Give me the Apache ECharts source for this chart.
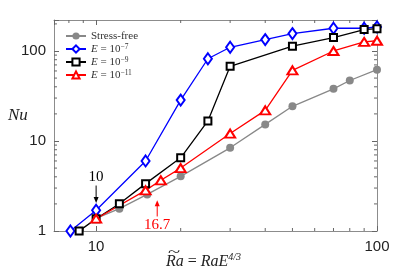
<!DOCTYPE html>
<html><head><meta charset="utf-8">
<script src="https://cdn.jsdelivr.net/npm/echarts@6/dist/echarts.min.js"></script>
<style>html,body{margin:0;padding:0;background:#fff}#c{width:415px;height:277px}</style>
</head><body><div id="c"></div>
<script>
// ---- data ----
const sfX = [8.7, 10, 12.1, 15.2, 20, 30, 40, 50, 70, 80, 100];
const sfY = [1.0, 1.38, 1.77, 2.55, 4.05, 8.4, 15.3, 24.3, 38, 47, 62];
const e7X = [8.1, 10, 15, 20, 25, 30, 40, 50, 70, 90, 100];
const e7Y = [1.0, 1.7, 6.0, 28.5, 82, 110, 134, 156, 179, 179, 185];
const e9X = [8.7, 10, 12.1, 15, 20, 25, 30, 50, 70, 90, 100];
const e9Y = [1.0, 1.37, 2.01, 3.36, 6.5, 16.7, 67.5, 113, 141, 173, 177];
const e11X = [10, 15, 17, 20, 30, 40, 50, 70, 90, 100];
const e11Y = [1.37, 2.83, 3.66, 5.0, 12.1, 21.9, 61, 100, 126, 130];
const seriesNames = ['Stress-free', 'E7', 'E9', 'E11'];
const xMajor = [10, 100];
const yMajor = [1, 10, 100];
const xMinor = [8, 9, 20, 30, 40, 50, 60, 70, 80, 90];
const yMinor = [2, 3, 4, 5, 6, 7, 8, 9, 20, 30, 40, 50, 60, 70, 80, 90, 200];
const annotations = [
  {text: '10', x: 10, yTail: 3.2, yHead: 2.05, color: '#000'},
  {text: '16.7', x: 16.5, yHead: 2.2, yTail: 1.45, color: '#f00'}
];
// ---- chart ----
const zip = (a, b) => a.map((v, i) => [v, b[i]]);
const XMIN = 7.08, XMAX = 100, YMIN = 1, YMAX = 221;
const boxColor = '#8c8c8c';
const tickColor = '#666';
const chart = echarts.init(document.getElementById('c'), null, {renderer: 'canvas'});
const serif = '"Liberation Serif", "DejaVu Serif", serif';
const sans = '"Liberation Sans", Arial, sans-serif';
const txt = '#333';
const rich = {
  i: {fontFamily: serif, fontStyle: 'italic', fontSize: 11, lineHeight: 12, color: txt},
  n: {fontFamily: serif, fontSize: 11, lineHeight: 12, color: txt},
  s: {fontFamily: serif, fontSize: 7.5, lineHeight: 5, verticalAlign: 'top', color: txt}
};
const legendLabels = {
  'Stress-free': '{n|Stress-free}',
  'E7': '{i|E} {n|= 10}{s|−7}',
  'E9': '{i|E} {n|= 10}{s|−9}',
  'E11': '{i|E} {n|= 10}{s|−11}'
};
function tickFmt(majors) {
  return v => majors.some(m => Math.abs(m - v) / m < 1e-6) ? String(Math.round(v)) : '';
}
function lineSeries(name, x, y, color, symbol, size) {
  return {
    name, type: 'line', data: zip(x, y), symbol, symbolSize: size,
    lineStyle: {color, width: 1.3}, itemStyle: {color, borderWidth: 1.3},
    showAllSymbol: true, z: 3
  };
}
const option = {
  animation: false,
  backgroundColor: '#fff',
  grid: {left: 54, right: 38, top: 20, bottom: 46},
  legend: {
    orient: 'vertical', left: 60, top: 25, itemWidth: 20, itemHeight: 9, itemGap: 1,
    data: seriesNames,
    formatter: n => legendLabels[n],
    textStyle: {rich, fontSize: 11, lineHeight: 12, fontFamily: serif}
  },
  xAxis: [
    {type: 'log', logBase: 10, min: XMIN, max: XMAX, position: 'bottom',
     axisLine: {lineStyle: {color: boxColor, width: 1}},
     axisTick: {inside: true, length: 5, lineStyle: {color: tickColor}},
     axisLabel: {formatter: tickFmt(xMajor), fontFamily: sans, fontSize: 15, color: '#222', margin: 8,
                 showMinLabel: false},
     splitLine: {show: false}},
    {type: 'log', logBase: 10, min: XMIN, max: XMAX, position: 'top',
     axisLine: {lineStyle: {color: boxColor, width: 1}},
     axisTick: {inside: true, length: 5, lineStyle: {color: tickColor}},
     axisLabel: {show: false}, splitLine: {show: false}}
  ],
  yAxis: [
    {type: 'log', logBase: 10, min: YMIN, max: YMAX, position: 'left',
     axisLine: {show: true, lineStyle: {color: boxColor, width: 1}},
     axisTick: {show: true, inside: true, length: 5, lineStyle: {color: tickColor}},
     axisLabel: {formatter: tickFmt(yMajor), fontFamily: sans, fontSize: 15, color: '#222', margin: 8},
     splitLine: {show: false}},
    {type: 'log', logBase: 10, min: YMIN, max: YMAX, position: 'right',
     axisLine: {show: true, lineStyle: {color: boxColor, width: 1}},
     axisTick: {show: true, inside: true, length: 5, lineStyle: {color: tickColor}},
     axisLabel: {show: false}, splitLine: {show: false}}
  ],
  series: [
    lineSeries('Stress-free', sfX, sfY, '#888888', 'circle', 8),
    lineSeries('E7', e7X, e7Y, '#0000ff', 'emptyDiamond', [8, 11]),
    lineSeries('E9', e9X, e9Y, '#000000', 'emptyRect', 7),
    lineSeries('E11', e11X, e11Y, '#ff0000', 'emptyTriangle', [10, 8]),
    {
      type: 'custom', silent: true, z: 1, legendHoverLink: false,
      data: xMinor.map(v => [v, YMIN]),
      renderItem: (params, api) => {
        const p = api.coord([api.value(0), api.value(1)]);
        const cs = params.coordSys;
        const st = {stroke: tickColor, lineWidth: 1};
        return {type: 'group', children: [
          {type: 'line', shape: {x1: p[0], y1: cs.y + cs.height, x2: p[0], y2: cs.y + cs.height - 3}, style: st},
          {type: 'line', shape: {x1: p[0], y1: cs.y, x2: p[0], y2: cs.y + 3}, style: st}
        ]};
      }
    },
    {
      type: 'custom', silent: true, z: 1,
      data: yMinor.map(v => [10, v]),
      renderItem: (params, api) => {
        const p = api.coord([api.value(0), api.value(1)]);
        const cs = params.coordSys;
        const st = {stroke: tickColor, lineWidth: 1};
        return {type: 'group', children: [
          {type: 'line', shape: {x1: cs.x, y1: p[1], x2: cs.x + 3, y2: p[1]}, style: st},
          {type: 'line', shape: {x1: cs.x + cs.width, y1: p[1], x2: cs.x + cs.width - 3, y2: p[1]}, style: st}
        ]};
      }
    }
  ]
};
chart.setOption(option);

// annotations and axis titles
const g = [];
annotations.forEach(a => {
  const t = chart.convertToPixel({xAxisIndex: 0, yAxisIndex: 0}, [a.x, a.yTail]);
  const h = chart.convertToPixel({xAxisIndex: 0, yAxisIndex: 0}, [a.x, a.yHead]);
  const dir = h[1] > t[1] ? 1 : -1;
  g.push({type: 'line', shape: {x1: t[0], y1: t[1], x2: h[0], y2: h[1] - dir * 3}, style: {stroke: a.color, lineWidth: 1}, z: 10});
  g.push({type: 'polygon', shape: {points: [[h[0], h[1]], [h[0] - 2.5, h[1] - dir * 6], [h[0] + 2.5, h[1] - dir * 6]]}, style: {fill: a.color}, z: 10});
  g.push({type: 'text', x: t[0], y: dir > 0 ? t[1] - 1 : t[1] + 1,
    style: {text: a.text, fill: a.color, font: '15px ' + serif, align: 'center', verticalAlign: dir > 0 ? 'bottom' : 'top'}, z: 10});
});
g.push({type: 'text', left: 8, top: 107, style: {text: 'Nu', fill: '#222', font: 'italic 17px ' + serif}});
g.push({type: 'text', left: 166, top: 252, style: {
  text: '{i|Ra} = {i|RaE}{s|4/3}', fill: '#222',
  rich: {
    i: {fontFamily: serif, fontStyle: 'italic', fontSize: 16, color: '#222'},
    s: {fontFamily: serif, fontStyle: 'italic', fontSize: 10, color: '#222', padding: [0, 0, 10, 0]}
  }, font: '16px ' + serif}});
g.push({type: 'text', x: 168, y: 246, scaleX: 1.6, style: {text: '~', fill: '#222', font: '14px ' + serif}});
chart.setOption({graphic: g});
</script></body></html>
